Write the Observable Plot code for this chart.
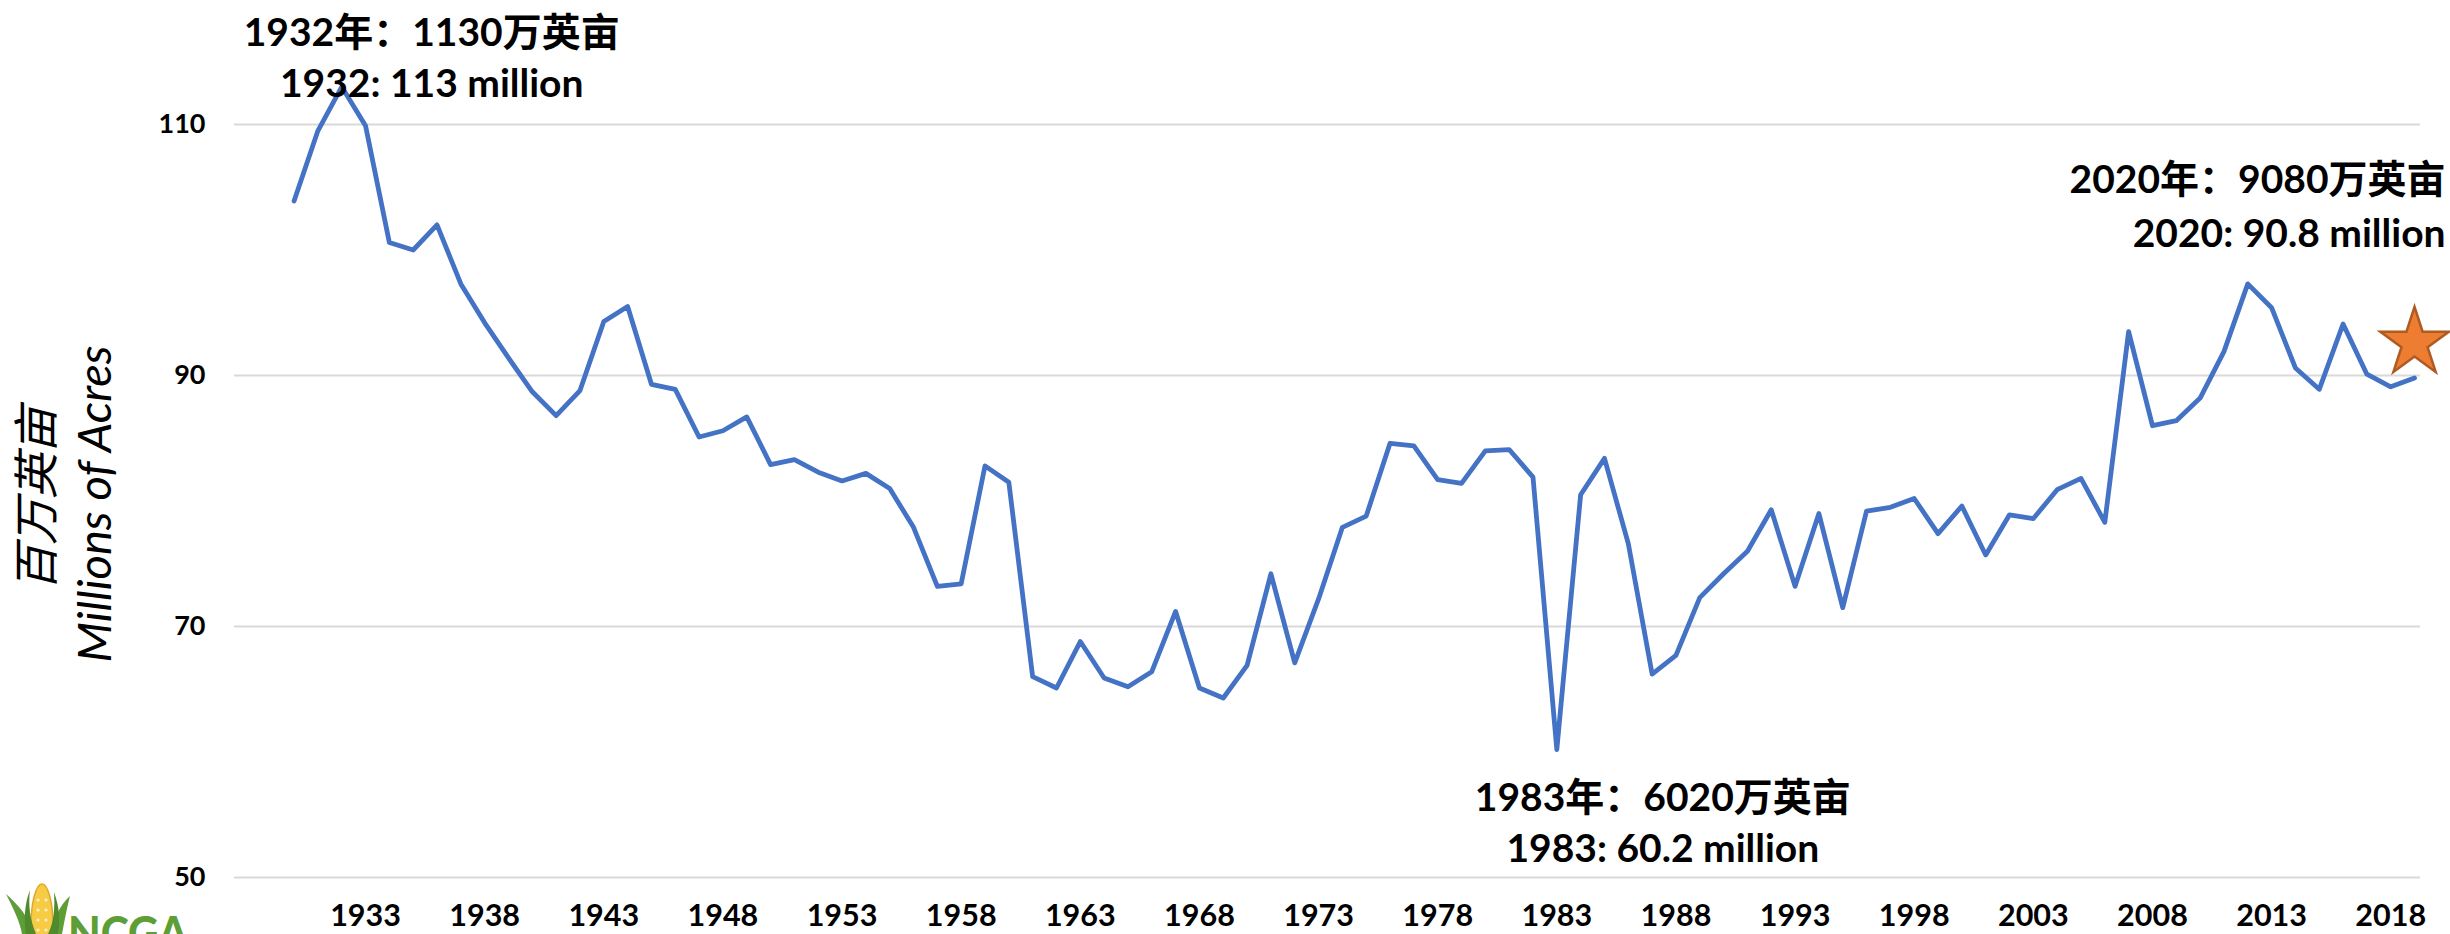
<!DOCTYPE html>
<html>
<head>
<meta charset="utf-8">
<script src="https://cdn.jsdelivr.net/npm/d3@7"></script>
<script src="https://cdn.jsdelivr.net/npm/@observablehq/plot@0.6"></script>
<style>
  html, body { margin: 0; padding: 0; background: #ffffff; width: 2450px; height: 934px; overflow: hidden; }
  #chart { position: absolute; left: 0; top: 0; }
  #logo { position: absolute; left: 0; top: 0; }
</style>
</head>
<body>
<div id="chart"></div>
<svg id="logo" width="200" height="934" viewBox="0 0 200 934">
  <g>
    <ellipse cx="42" cy="926" rx="11" ry="42" fill="#F8CB45" stroke="#E0A82A" stroke-width="1.5"/>
    <g fill="#ffffff" opacity="0.7">
      <circle cx="38" cy="900" r="1.6"/><circle cx="46" cy="900" r="1.6"/>
      <circle cx="38" cy="910" r="1.6"/><circle cx="46" cy="910" r="1.6"/>
      <circle cx="38" cy="920" r="1.6"/><circle cx="46" cy="920" r="1.6"/>
      <circle cx="38" cy="930" r="1.6"/><circle cx="46" cy="930" r="1.6"/>
    </g>
    <path d="M34 934 C 28 915, 18 905, 6 894 C 14 910, 20 922, 22 934 Z" fill="#5E9E36"/>
    <path d="M36 934 C 30 920, 28 905, 30 890 C 24 905, 24 922, 26 934 Z" fill="#4F8A2C"/>
    <path d="M50 934 C 54 918, 60 905, 70 896 C 66 912, 64 924, 62 934 Z" fill="#5E9E36"/>
    <path d="M48 934 C 54 922, 55 908, 54 892 C 60 908, 60 922, 58 934 Z" fill="#4F8A2C"/>
  </g>
  <text x="68" y="949" font-family="Lato, 'Liberation Sans', sans-serif" font-weight="900" font-size="46" fill="#5E9E36" textLength="120" lengthAdjust="spacingAndGlyphs">NCGA</text>
</svg>
<script>
// ---- Data ----
const firstYear = 1930;
// Corn planted area, millions of acres, 1930 .. 2019
const acres = [
  103.9, 109.5, 113.0, 109.9, 100.6, 100.0, 102.0, 97.3, 94.2, 91.4,   // 1930-1939
  88.7, 86.8, 88.8, 94.3, 95.5, 89.3, 88.9, 85.1, 85.6, 86.7,          // 1940-1949
  82.9, 83.3, 82.3, 81.6, 82.2, 81.0, 77.9, 73.2, 73.4, 82.8,          // 1950-1959
  81.5, 66.0, 65.1, 68.8, 65.9, 65.2, 66.4, 71.2, 65.1, 64.3,          // 1960-1969
  66.9, 74.2, 67.1, 72.2, 77.9, 78.8, 84.6, 84.4, 81.7, 81.4,          // 1970-1979
  84.0, 84.1, 81.9, 60.2, 80.5, 83.4, 76.6, 66.2, 67.7, 72.3,          // 1980-1989
  74.2, 76.0, 79.3, 73.2, 79.0, 71.5, 79.2, 79.5, 80.2, 77.4,          // 1990-1999
  79.6, 75.7, 78.9, 78.6, 80.9, 81.8, 78.3, 93.5, 86.0, 86.4,          // 2000-2009
  88.2, 91.9, 97.3, 95.4, 90.6, 88.9, 94.1, 90.1, 89.1, 89.8           // 2010-2019
];
const years = acres.map((_, i) => firstYear + i);

const xTicks = [1933, 1938, 1943, 1948, 1953, 1958, 1963, 1968, 1973, 1978, 1983, 1988, 1993, 1998, 2003, 2008, 2013, 2018];
const yTicks = [50, 70, 90, 110];

// 2020 marker (star) as drawn at the right end of the series
const starYear = [2019];
const starValue = [92.6];

// Annotation texts and the point each one belongs to
const noteZh = ["1932年：1130万英亩", "1983年：6020万英亩", "2020年：9080万英亩"];
const noteEn = ["1932: 113 million", "1983: 60.2 million", "2020: 90.8 million"];
const noteYear = [1932, 1983, starYear[0]];

const yTitleZh = "百万英亩";
const yTitleEn = "Millions of Acres";

// ---- Build tables ----
const series = years.map((year, i) => ({year, value: acres[i]}));
const star = starYear.map((year, i) => ({year, value: starValue[i]}));
const notes = noteZh.map((zh, i) => {
  const y = noteYear[i];
  const anchor = i === 2 ? star[0] : series.find(d => d.year === y);
  return {year: anchor.year, value: anchor.value, zh, en: noteEn[i]};
});

const textFont = "Lato, 'Noto Sans CJK SC', sans-serif";
const noteLayout = [
  {dx: 90, dyZh: -53, dyEn: -2, textAnchor: "middle"},
  {dx: 106, dyZh: 49, dyEn: 100, textAnchor: "middle"},
  {dx: 31, dyZh: -162, dyEn: -108, textAnchor: "end"}
];

const noteMarks = notes.flatMap((n, i) => {
  const L = noteLayout[i];
  const common = {x: "year", y: "value", dx: L.dx, textAnchor: L.textAnchor, lineAnchor: "middle",
    fontFamily: textFont, fontSize: 39, fontWeight: "bold", fill: "#000000"};
  return [
    Plot.text([n], {...common, text: "zh", dy: L.dyZh}),
    Plot.text([n], {...common, text: "en", dy: L.dyEn})
  ];
});

const chart = Plot.plot({
  width: 2450,
  height: 934,
  marginLeft: 234,
  marginRight: 30,
  marginTop: 124,
  marginBottom: 57,
  style: {background: "transparent", fontFamily: textFont, color: "#000000"},
  x: {type: "linear", domain: [1927.5, 2019.25]},
  y: {domain: [50, 110]},
  marks: [
    Plot.gridY(yTicks, {stroke: "#d9d9d9", strokeOpacity: 1, strokeWidth: 2}),
    Plot.axisY(yTicks, {tickSize: 0, tickPadding: 29, fontSize: 27, fontWeight: "bold", fill: "#000000", label: null, fontFamily: textFont}),
    Plot.axisX(xTicks, {tickSize: 0, tickPadding: 27, fontSize: 30.5, fontWeight: "bold", fill: "#000000", label: null, tickFormat: d => String(d), fontFamily: textFont}),
    Plot.line(series, {x: "year", y: "value", stroke: "#4472C4", strokeWidth: 4.8, strokeLinejoin: "round", strokeLinecap: "round"}),
    Plot.dot(star, {x: "year", y: "value", symbol: "star", r: 21.5, fill: "#ED7D31", stroke: "#AE5A21", strokeWidth: 2.5}),
    ...noteMarks,
    Plot.text([yTitleZh], {frameAnchor: "left", rotate: -90, dx: -196, dy: -2, text: d => d, textAnchor: "middle",
      fontFamily: "'Noto Sans CJK SC', sans-serif", fontSize: 46, fontStyle: "italic", fontWeight: "normal", fill: "#000000", lineAnchor: "middle"}),
    Plot.text([yTitleEn], {frameAnchor: "left", rotate: -90, dx: -139, dy: 3, text: d => d, textAnchor: "middle",
      fontFamily: "Lato, sans-serif", fontSize: 47, fontStyle: "italic", fontWeight: "normal", fill: "#000000", lineAnchor: "middle"})
  ]
});
document.getElementById("chart").appendChild(chart);
</script>
</body>
</html>
